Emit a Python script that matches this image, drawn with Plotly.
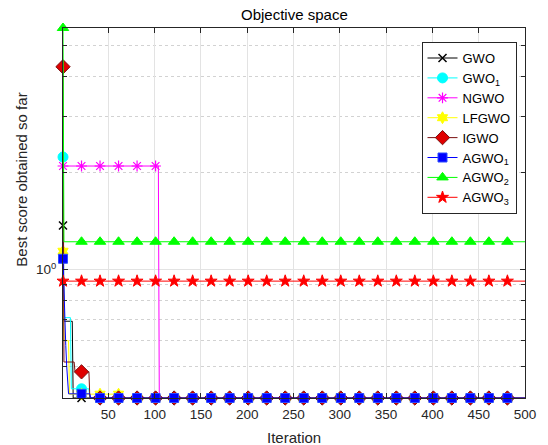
import numpy as np
import plotly.graph_objects as go

N_ITER = 500
iterations = list(range(1, N_ITER + 1))
marker_iters = list(range(1, N_ITER + 1, 20))

names = ["GWO", "GWO<sub>1</sub>", "NGWO", "LFGWO", "IGWO",
         "AGWO<sub>1</sub>", "AGWO<sub>2</sub>", "AGWO<sub>3</sub>"]

# best-so-far curves as step changes: (iteration where value starts, best score)
gwo_steps = [(1, 1.37), (2, 0.69), (12, 0.3979)]
gwo1_steps = [(1, 2.24), (2, 0.708), (10, 0.425), (30, 0.3979)]
ngwo_steps = [(1, 2.10), (105, 0.3979)]
lfgwo_steps = [(1, 1.14), (2, 0.60), (8, 0.409), (64, 0.3979)]
igwo_steps = [(1, 4.28), (2, 0.515), (14, 0.48), (30, 0.3979)]
agwo1_steps = [(1, 1.08), (2, 0.82), (3, 0.70), (4, 0.58), (5, 0.50), (6, 0.44), (7, 0.41), (31, 0.3979)]
agwo2_steps = [(1, 5.65), (2, 1.22)]
agwo3_steps = [(1, 0.92)]

all_steps = [gwo_steps, gwo1_steps, ngwo_steps, lfgwo_steps, igwo_steps,
             agwo1_steps, agwo2_steps, agwo3_steps]

line_colors = ["#000000", "#00ffff", "#ff00ff", "#ffff00", "#7a1010", "#0000ff", "#00ff00", "#ff0000"]
symbols = ["x-thin-open", "circle", "asterisk-open", "hexagram", "diamond", "square", "triangle-up", "star"]
sizes = [8, 10, 9, 9, 11, 9, 10, 9]
fills = ["#000000", "#00ffff", "#ff00ff", "#ffff00", "#e00000", "#0000ff", "#00ff00", "#ff0000"]
edges = ["#000000", "#00ffff", "#ff00ff", "#ffff00", "#7a1010", "#2a4bff", "#00ff00", "#ff0000"]
edge_w = [1.5, 1, 1.2, 1, 1, 1, 1, 1]


def expand(steps):
    vals = []
    for it in iterations:
        v = None
        for s, val in steps:
            if s <= it:
                v = val
        vals.append(v)
    return vals


series = [expand(s) for s in all_steps]

FONT = "Liberation Sans, Arial, Helvetica, sans-serif"
TXT = "#262626"

fig = go.Figure()
for i, ys in enumerate(series):
    fig.add_trace(go.Scatter(x=iterations, y=ys, mode="lines",
                             line=dict(color=line_colors[i], width=1),
                             showlegend=False, hoverinfo="skip"))
    mx = marker_iters
    my = [ys[m - 1] for m in mx]
    fig.add_trace(go.Scatter(x=mx, y=my, mode="markers", cliponaxis=False,
                             marker=dict(symbol=symbols[i], size=sizes[i], color=fills[i],
                                         line=dict(color=edges[i], width=edge_w[i])),
                             showlegend=False))

for i in range(len(series)):
    fig.add_trace(go.Scatter(x=[None], y=[None], mode="lines+markers", name=names[i],
                             line=dict(color=line_colors[i], width=1),
                             marker=dict(symbol=symbols[i], size=sizes[i], color=fills[i],
                                         line=dict(color=edges[i], width=edge_w[i]))))

all_vals = [v for s in series for v in s]
ymin, ymax = min(all_vals), max(all_vals)

fig.update_layout(
    width=548, height=445,
    margin=dict(l=63, r=16, t=28, b=47),
    paper_bgcolor="white", plot_bgcolor="white",
    font=dict(family=FONT, color=TXT, size=13),
    showlegend=True,
    legend=dict(x=0.776, y=0.962, xanchor="left", yanchor="top",
                bordercolor=TXT, borderwidth=1, bgcolor="white",
                font=dict(size=13, color="#000000"), tracegroupgap=0,
                itemwidth=30),
    xaxis=dict(range=[1, N_ITER], tickvals=list(range(50, 501, 50)),
               ticks="inside", ticklen=5, tickcolor=TXT,
               showline=True, linecolor=TXT, linewidth=1, mirror="ticks",
               showgrid=True, gridcolor="#e3e3e3", gridwidth=1, zeroline=False,
               tickfont=dict(size=13.5), ticklabelstandoff=4),
    yaxis=dict(type="log", range=[np.log10(ymin), np.log10(ymax)],
               tickvals=[1], ticktext=["10<sup>0</sup>"],
               ticks="inside", ticklen=5, tickcolor=TXT,
               showline=True, linecolor=TXT, linewidth=1, mirror="ticks",
               showgrid=True, gridcolor="#e3e3e3", gridwidth=1, zeroline=False,
               tickfont=dict(size=13.5), ticklabelstandoff=3,
               minor=dict(tickmode="array", tickvals=[0.4, 0.5, 0.6, 0.7, 0.8, 0.9, 2, 3, 4, 5],
                          ticks="inside", ticklen=4, tickcolor=TXT,
                          showgrid=True, gridcolor="#d2d2d2", griddash="dot", gridwidth=1)),
    annotations=[
        dict(text="Objective space", xref="paper", yref="paper", x=0.5, y=(398 - 15) / 370,
             xanchor="center", yanchor="middle", showarrow=False, font=dict(size=15, color="#000000")),
        dict(text="Iteration", xref="paper", yref="paper", x=0.5, y=(398 - 437) / 370,
             xanchor="center", yanchor="middle", showarrow=False, font=dict(size=15, color=TXT)),
        dict(text="Best score obtained so far", xref="paper", yref="paper",
             x=(20 - 63) / 469, y=(398 - 180) / 370, textangle=-90,
             xanchor="center", yanchor="middle", showarrow=False, font=dict(size=15, color=TXT)),
    ],
)

fig.write_html("out.html")
